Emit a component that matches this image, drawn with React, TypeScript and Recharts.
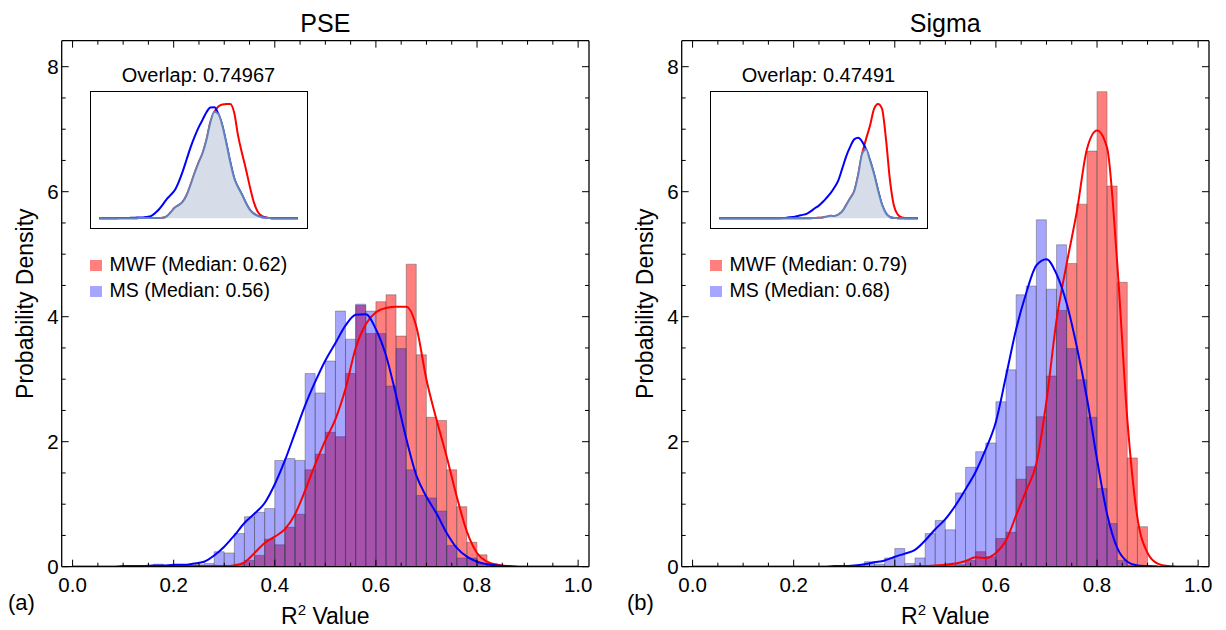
import { ComposedChart, Bar, Line, Area, XAxis, YAxis, Legend } from 'recharts';

const FONT = '"Liberation Sans", Arial, Helvetica, sans-serif';

// histogram bins (width 0.02), centres
const binCenters = [
  0.15, 0.17, 0.19, 0.21, 0.23, 0.25, 0.27, 0.29, 0.31, 0.33,
  0.35, 0.37, 0.39, 0.41, 0.43, 0.45, 0.47, 0.49, 0.51, 0.53,
  0.55, 0.57, 0.59, 0.61, 0.63, 0.65, 0.67, 0.69, 0.71, 0.73,
  0.75, 0.77, 0.79, 0.81, 0.83, 0.85, 0.87, 0.89, 0.91, 0.93, 0.95,
];

// PSE panel histograms
const pseMwfHist = [
  0, 0, 0, 0, 0, 0, 0, 0.02, 0.02, 0.04,
  0.10, 0.18, 0.44, 0.35, 0.63, 0.84, 1.55, 1.80, 2.15, 2.08,
  3.09, 4.18, 3.73, 4.24, 4.35, 3.69, 4.84, 3.39, 2.39, 2.34,
  1.55, 0.96, 0.39, 0.19, 0.05, 0.02, 0.01, 0, 0, 0, 0,
];
const pseMsHist = [
  0, 0.04, 0.02, 0.02, 0.02, 0.03, 0.05, 0.24, 0.22, 0.53,
  0.80, 0.87, 0.93, 1.70, 1.73, 1.70, 3.09, 2.78, 3.29, 4.09,
  3.64, 4.20, 4.09, 3.73, 2.89, 3.49, 1.55, 1.14, 1.10, 0.89,
  0.34, 0.14, 0.14, 0.05, 0.02, 0.01, 0, 0, 0, 0, 0,
];

// Sigma panel histograms
const sigmaMwfHist = [
  0, 0, 0, 0, 0, 0, 0, 0, 0, 0,
  0, 0, 0, 0, 0, 0.01, 0.01, 0.01, 0.02, 0.03,
  0.10, 0.24, 0.16, 0.45, 0.55, 1.40, 1.60, 2.40, 3.05, 4.10,
  4.85, 5.80, 6.65, 7.60, 6.09, 4.55, 1.74, 0.64, 0.02, 0, 0,
];
const sigmaMsHist = [
  0, 0, 0, 0, 0, 0, 0, 0, 0.02, 0.02,
  0.08, 0.04, 0.14, 0.29, 0.05, 0.14, 0.53, 0.74, 0.59, 1.18,
  1.59, 1.84, 1.98, 2.64, 3.15, 4.35, 4.49, 5.55, 4.44, 5.15,
  3.49, 2.99, 2.39, 1.25, 0.69, 0.10, 0.02, 0, 0, 0, 0,
];

// density estimates sampled on R² = 0, 0.02, ..., 1
const kdeX = [
  0, 0.02, 0.04, 0.06, 0.08, 0.1, 0.12, 0.14, 0.16, 0.18,
  0.2, 0.22, 0.24, 0.26, 0.28, 0.3, 0.32, 0.34, 0.36, 0.38,
  0.4, 0.42, 0.44, 0.46, 0.48, 0.5, 0.52, 0.54, 0.56, 0.58,
  0.6, 0.62, 0.64, 0.66, 0.68, 0.7, 0.72, 0.74, 0.76, 0.78,
  0.8, 0.82, 0.84, 0.86, 0.88, 0.9, 0.92, 0.94, 0.96, 0.98, 1,
];
const pseMwfKde = [
  0, 0, 0, 0, 0, 0, 0, 0, 0, 0,
  0.01, 0.01, 0.01, 0.01, 0.01, 0.01, 0.02, 0.07, 0.22, 0.38,
  0.48, 0.60, 0.84, 1.22, 1.64, 2.02, 2.36, 2.85, 3.50, 3.88,
  4.07, 4.14, 4.16, 4.16, 3.84, 2.99, 2.35, 1.76, 1.12, 0.56,
  0.22, 0.08, 0.03, 0.01, 0, 0, 0, 0, 0, 0, 0,
];
const pseMsKde = [
  0, 0, 0, 0, 0, 0.01, 0.01, 0.01, 0.02, 0.02,
  0.03, 0.03, 0.05, 0.08, 0.18, 0.32, 0.50, 0.70, 0.85, 1.02,
  1.32, 1.70, 2.14, 2.58, 2.96, 3.30, 3.58, 3.86, 4.03, 4.04,
  3.80, 3.38, 2.74, 2.05, 1.46, 1.12, 0.85, 0.54, 0.30, 0.16,
  0.08, 0.04, 0.02, 0.01, 0, 0, 0, 0, 0, 0, 0,
];
const sigmaMwfKde = [
  0, 0, 0, 0, 0, 0, 0, 0, 0, 0,
  0, 0, 0, 0, 0, 0, 0, 0, 0, 0,
  0, 0, 0.01, 0.01, 0.02, 0.03, 0.05, 0.09, 0.15, 0.14,
  0.22, 0.42, 0.82, 1.22, 1.65, 2.65, 3.95, 4.85, 5.68, 6.68,
  6.98, 6.70, 4.85, 2.35, 0.78, 0.22, 0.05, 0.01, 0, 0, 0,
];
const sigmaMsKde = [
  0, 0, 0, 0, 0, 0, 0, 0, 0, 0,
  0, 0, 0, 0, 0.01, 0.01, 0.02, 0.04, 0.07, 0.10,
  0.16, 0.21, 0.27, 0.42, 0.60, 0.76, 0.98, 1.24, 1.52, 1.88,
  2.32, 3.05, 3.80, 4.38, 4.82, 4.92, 4.68, 4.21, 3.52, 2.70,
  1.72, 0.84, 0.30, 0.08, 0.02, 0.01, 0, 0, 0, 0, 0,
];

const xTicks = [0, 0.05, 0.1, 0.15, 0.2, 0.25, 0.3, 0.35, 0.4, 0.45, 0.5, 0.55, 0.6, 0.65, 0.7, 0.75, 0.8, 0.85, 0.9, 0.95, 1];
const xMajor = [0, 0.2, 0.4, 0.6, 0.8, 1];
const yTicks = [0, 0.5, 1, 1.5, 2, 2.5, 3, 3.5, 4, 4.5, 5, 5.5, 6, 6.5, 7, 7.5, 8];
const yMajor = [0, 2, 4, 6, 8];

const X_DOMAIN: [number, number] = [-0.0215, 1.0215];
const Y_DOMAIN: [number, number] = [0, 8.416];
// plot box: x 61.7..589, y 40.7..566.7 (each frame axis takes 1px)
const PLOT_RIGHT = 589;
const MARGIN = { top: 39.7, bottom: 62.3, left: 60.7 };
const frameLine = { stroke: '#000', strokeWidth: 1.3 };

const RED_FILL = 'rgba(255,0,0,0.5)';
const BLUE_FILL = 'rgba(0,0,255,0.35)';

const near = (v: number, list: number[]) => list.some((b) => Math.abs(v - b) < 1e-6);

function xTick(side: 'bottom' | 'top') {
  return (p: any) => {
    const v = Number(p.payload?.value);
    const major = near(v, xMajor);
    const dir = side === 'bottom' ? -1 : 1;
    return (
      <g>
        <line x1={p.x} x2={p.x} y1={p.y} y2={p.y + dir * (major ? 7 : 4)} stroke="#000" strokeWidth={1} />
        {side === 'bottom' && major ? (
          <text x={p.x} y={p.y + 25} textAnchor="middle" fontSize={20.5} fontFamily={FONT} fill="#000">
            {v.toFixed(1)}
          </text>
        ) : null}
      </g>
    );
  };
}

function yTick(side: 'left' | 'right') {
  return (p: any) => {
    const v = Number(p.payload?.value);
    const major = near(v, yMajor);
    const dir = side === 'left' ? 1 : -1;
    return (
      <g>
        <line x1={p.x} x2={p.x + dir * (major ? 7 : 4)} y1={p.y} y2={p.y} stroke="#000" strokeWidth={1} />
        {side === 'left' && major ? (
          <text x={p.x - 3} y={p.y + 7.3} textAnchor="end" fontSize={20.5} fontFamily={FONT} fill="#000">
            {v}
          </text>
        ) : null}
      </g>
    );
  };
}

const renderLegend = (props: any) => {
  const items = (props.payload || [])
    .filter((e: any) => e.type !== 'none')
    .sort((a: any, b: any) => (a.dataKey === 'red' ? 0 : 1) - (b.dataKey === 'red' ? 0 : 1));
  return (
    <div style={{ fontFamily: FONT, fontSize: 19.5, color: '#000' }}>
      {items.map((e: any) => (
        <div key={e.value} style={{ position: 'relative', height: 26, lineHeight: '26px', paddingLeft: 19.5, whiteSpace: 'nowrap' }}>
          <span style={{ position: 'absolute', left: 0, top: 9, width: 11.5, height: 11, background: e.payload?.fill ?? e.color }} />
          {e.value}
        </div>
      ))}
    </div>
  );
};

type PanelProps = {
  width: number;
  mwfHist: number[];
  msHist: number[];
  mwfKde: number[];
  msKde: number[];
  mwfName: string;
  msName: string;
};

function Panel({ width, mwfHist, msHist, mwfKde, msKde, mwfName, msName }: PanelProps) {
  const bins = binCenters.map((x, i) => ({ x, red: mwfHist[i], blue: msHist[i] }));
  const kde = kdeX.map((x, i) => ({ x, red: mwfKde[i], blue: msKde[i] }));
  return (
    <ComposedChart
      width={width}
      height={630}
      data={bins}
      margin={{ ...MARGIN, right: width - PLOT_RIGHT - 1 }}
      barCategoryGap={0}
      barGap={0}
    >
      <XAxis xAxisId="main" dataKey="x" type="number" domain={X_DOMAIN} allowDataOverflow ticks={xTicks} interval={0}
        height={1} tickSize={0} tickMargin={0} tickLine={false} axisLine={frameLine} tick={xTick('bottom')} />
      <XAxis xAxisId="top" orientation="top" dataKey="x" type="number" domain={X_DOMAIN} allowDataOverflow ticks={xTicks} interval={0}
        height={1} tickSize={0} tickMargin={0} tickLine={false} axisLine={frameLine} tick={xTick('top')} />
      <XAxis xAxisId="r" dataKey="x" type="number" domain={X_DOMAIN} allowDataOverflow hide height={0} />
      <XAxis xAxisId="b" dataKey="x" type="number" domain={X_DOMAIN} allowDataOverflow hide height={0} />
      <YAxis yAxisId="main" type="number" domain={Y_DOMAIN} allowDataOverflow ticks={yTicks} interval={0}
        width={1} tickSize={0} tickMargin={0} tickLine={false} axisLine={frameLine} tick={yTick('left')} />
      <YAxis yAxisId="right" orientation="right" type="number" domain={Y_DOMAIN} allowDataOverflow ticks={yTicks} interval={0}
        width={1} tickSize={0} tickMargin={0} tickLine={false} axisLine={frameLine} tick={yTick('right')} />
      <Bar xAxisId="r" yAxisId="main" dataKey="red" name={mwfName} fill={RED_FILL}
        stroke="#444" strokeOpacity={0.5} strokeWidth={0.8} isAnimationActive={false} />
      <Bar xAxisId="b" yAxisId="main" dataKey="blue" name={msName} fill={BLUE_FILL}
        stroke="#444" strokeOpacity={0.5} strokeWidth={0.8} isAnimationActive={false} />
      <Line xAxisId="main" yAxisId="main" data={kde} dataKey="red" type="monotone" stroke="#ff0000" strokeWidth={2}
        dot={false} legendType="none" isAnimationActive={false} />
      <Line xAxisId="main" yAxisId="main" data={kde} dataKey="blue" type="monotone" stroke="#0000ff" strokeWidth={2}
        dot={false} legendType="none" isAnimationActive={false} />
      <Legend layout="vertical" align="center" verticalAlign="middle" content={renderLegend}
        wrapperStyle={{ left: 90, top: 251, width: 'auto', height: 'auto' }} />
    </ComposedChart>
  );
}

function Inset({ left, mwfKde, msKde }: { left: number; mwfKde: number[]; msKde: number[] }) {
  const data = kdeX.map((x, i) => ({ x, red: mwfKde[i], blue: msKde[i], overlap: Math.min(mwfKde[i], msKde[i]) }));
  return (
    <>
      <div style={{ position: 'absolute', left, top: 91, width: 218, height: 138, border: '1.5px solid #000', boxSizing: 'border-box' }} />
      <div style={{ position: 'absolute', left, top: 91 }}>
        <ComposedChart width={218} height={138} data={data} margin={{ top: 13, right: 10.3, bottom: 10.7, left: 9.3 }}>
          <XAxis dataKey="x" type="number" domain={[0, 1]} hide />
          <YAxis type="number" domain={[0, 'dataMax']} hide />
          <Line dataKey="red" type="monotone" stroke="#ff0000" strokeWidth={2} dot={false} isAnimationActive={false} />
          <Line dataKey="blue" type="monotone" stroke="#0000ff" strokeWidth={2} dot={false} isAnimationActive={false} />
          <Area dataKey="overlap" type="monotone" fill="#d6dde8" fillOpacity={1} stroke="#6282ba" strokeWidth={2}
            isAnimationActive={false} zIndex={450} />
        </ComposedChart>
      </div>
    </>
  );
}

export default function App() {
  const txt = { fontFamily: FONT, fill: '#000' };
  return (
    <div style={{ position: 'absolute', left: 0, top: 0, width: 1226, height: 630, background: '#fff', overflow: 'hidden' }}>
      <div style={{ position: 'absolute', left: 0, top: 0 }}>
        <Panel width={620} mwfHist={pseMwfHist} msHist={pseMsHist} mwfKde={pseMwfKde} msKde={pseMsKde}
          mwfName="MWF (Median: 0.62)" msName="MS (Median: 0.56)" />
      </div>
      <div style={{ position: 'absolute', left: 620, top: 0 }}>
        <Panel width={606} mwfHist={sigmaMwfHist} msHist={sigmaMsHist} mwfKde={sigmaMwfKde} msKde={sigmaMsKde}
          mwfName="MWF (Median: 0.79)" msName="MS (Median: 0.68)" />
      </div>
      <Inset left={90} mwfKde={pseMwfKde} msKde={pseMsKde} />
      <Inset left={710} mwfKde={sigmaMwfKde} msKde={sigmaMsKde} />
      <svg width={1226} height={630} style={{ position: 'absolute', left: 0, top: 0, pointerEvents: 'none' }}>
        <text x={325.3} y={31.5} textAnchor="middle" fontSize={25} {...txt}>PSE</text>
        <text x={945.3} y={31.5} textAnchor="middle" fontSize={25} {...txt}>Sigma</text>
        <text x={198.5} y={81.5} textAnchor="middle" fontSize={20} {...txt}>Overlap: 0.74967</text>
        <text x={818.5} y={81.5} textAnchor="middle" fontSize={20} {...txt}>Overlap: 0.47491</text>
        <text transform="translate(32.5,303.7) rotate(-90)" textAnchor="middle" fontSize={23} {...txt}>Probability Density</text>
        <text transform="translate(652.5,303.7) rotate(-90)" textAnchor="middle" fontSize={23} {...txt}>Probability Density</text>
        <text x={325.3} y={624} textAnchor="middle" fontSize={23} {...txt}>
          R<tspan fontSize={15} dy={-9}>2</tspan><tspan dy={9}> Value</tspan>
        </text>
        <text x={945.3} y={624} textAnchor="middle" fontSize={23} {...txt}>
          R<tspan fontSize={15} dy={-9}>2</tspan><tspan dy={9}> Value</tspan>
        </text>
        <text x={8} y={610} fontSize={22} {...txt}>(a)</text>
        <text x={627} y={610} fontSize={22} {...txt}>(b)</text>
      </svg>
    </div>
  );
}
